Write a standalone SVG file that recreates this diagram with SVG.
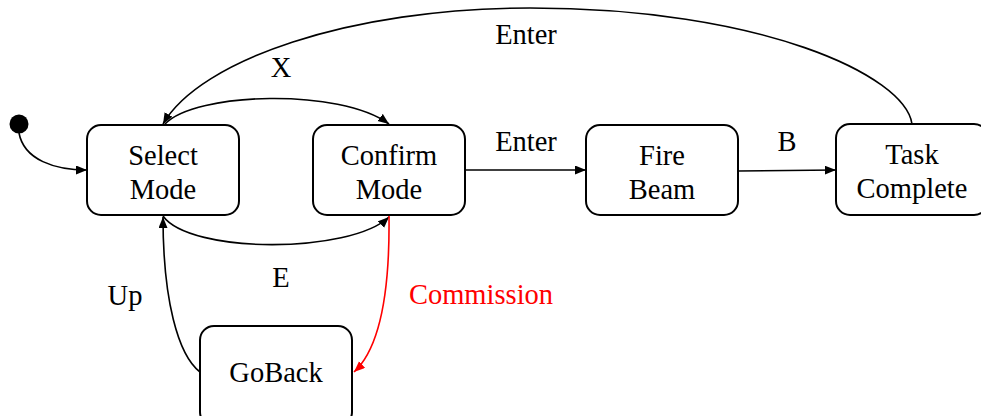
<svg xmlns="http://www.w3.org/2000/svg" width="981" height="416" viewBox="0 0 981 416">
  <defs>
    <marker id="arrow" markerUnits="userSpaceOnUse" markerWidth="12" markerHeight="10" refX="11" refY="4.5" orient="auto">
      <path d="M0,0 L11,4.5 L0,9 z" fill="#000"/>
    </marker>
    <marker id="arrow-red" markerUnits="userSpaceOnUse" markerWidth="12" markerHeight="10" refX="11" refY="4.5" orient="auto">
      <path d="M0,0 L11,4.5 L0,9 z" fill="#ff0000"/>
    </marker>
  </defs>
  <style>
    .state { fill: #fff; stroke: #000; stroke-width: 2; }
    .label { font-family: "Liberation Serif", "Times New Roman", serif; font-size: 28.5px; fill: #000; text-anchor: middle; }
    .edge { fill: none; stroke: #000; stroke-width: 1.6; marker-end: url(#arrow); }
    .edge-red { fill: none; stroke: #ff0000; stroke-width: 1.6; marker-end: url(#arrow-red); }
    .red { fill: #ff0000; }
  </style>

  <rect width="981" height="416" fill="#fff"/>

  <!-- transitions -->
  <g id="connectors">
    <path class="edge" d="M19,133 C24,160 55,170 87,170"/>
    <path class="edge" d="M912,124 C905,75 760,8 530,8 C350,8 200,60 163,124"/>
    <path class="edge" d="M165,124 C195,92 340,88 389,124"/>
    <path class="edge" d="M163,216 C190,254 350,254 389,217"/>
    <path class="edge" d="M465,170 L586,170"/>
    <path class="edge" d="M738,171 L836,170"/>
    <path class="edge" d="M200,372 C178,355 163,300 163,217"/>
    <path class="edge-red" d="M389,216 C390,300 378,350 354,372"/>

    <text class="label" x="281" y="77">X</text>
    <text class="label" x="526" y="44">Enter</text>
    <text class="label" x="526" y="151">Enter</text>
    <text class="label" x="787" y="151">B</text>
    <text class="label" x="281" y="287">E</text>
    <text class="label" x="125" y="305">Up</text>
    <text class="label red" x="481" y="304">Commission</text>
  </g>

  <g id="start">
    <circle cx="19" cy="124" r="9.5" fill="#000"/>
  </g>

  <g id="select-mode">
    <rect class="state" x="87" y="125" width="152" height="90" rx="14"/>
    <text class="label" x="163" y="165">Select</text>
    <text class="label" x="163" y="199">Mode</text>
  </g>

  <g id="confirm-mode">
    <rect class="state" x="313" y="125" width="152" height="90" rx="14"/>
    <text class="label" x="389" y="165">Confirm</text>
    <text class="label" x="389" y="199">Mode</text>
  </g>

  <g id="fire-beam">
    <rect class="state" x="586" y="125" width="152" height="90" rx="14"/>
    <text class="label" x="662" y="165">Fire</text>
    <text class="label" x="662" y="199">Beam</text>
  </g>

  <g id="task-complete">
    <rect class="state" x="836" y="124" width="152" height="91" rx="14"/>
    <text class="label" x="912" y="164">Task</text>
    <text class="label" x="912" y="198">Complete</text>
  </g>

  <g id="go-back">
    <rect class="state" x="200" y="326" width="152" height="100" rx="14"/>
    <text class="label" x="276" y="382">GoBack</text>
  </g>
</svg>
